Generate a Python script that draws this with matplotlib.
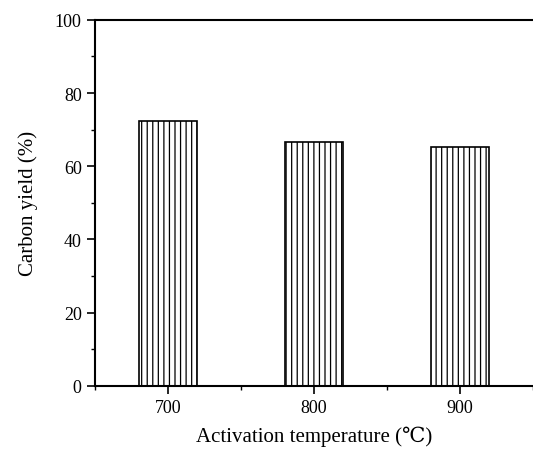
import matplotlib
matplotlib.use('Agg')
import matplotlib.pyplot as plt
from matplotlib.ticker import MultipleLocator

plt.rcParams['font.family'] = ['Liberation Serif', 'DejaVu Serif']
plt.rcParams['hatch.linewidth'] = 0.9

temps = [700, 800, 900]
yields = [72.4, 66.7, 65.3]
tick_labels = ['700', '800', '900']

fig = plt.figure(figsize=(5.33, 4.52), dpi=100)
ax = fig.add_axes([0.178, 0.144, 0.822, 0.81])

ax.bar(temps, yields, width=40, color='white', edgecolor='black', linewidth=1.2, hatch='|||')

ax.set_xlim(650, 950)
ax.set_ylim(0, 100)
ax.set_xticks(temps)
ax.set_xticklabels(tick_labels)
ax.xaxis.set_minor_locator(MultipleLocator(50))
ax.yaxis.set_major_locator(MultipleLocator(20))
ax.yaxis.set_minor_locator(MultipleLocator(10))
ax.tick_params(axis='both', which='major', direction='out', length=6, width=1.2, labelsize=13)
ax.tick_params(axis='both', which='minor', direction='out', length=3, width=1.0)

for s in ['left', 'top', 'bottom']:
    ax.spines[s].set_linewidth(1.5)
ax.spines['right'].set_visible(False)

ax.set_xlabel('Activation temperature (℃)', fontsize=15, labelpad=7)
ax.set_ylabel('Carbon yield (%)', fontsize=15, labelpad=12)

fig.savefig('out.png', dpi=100)
